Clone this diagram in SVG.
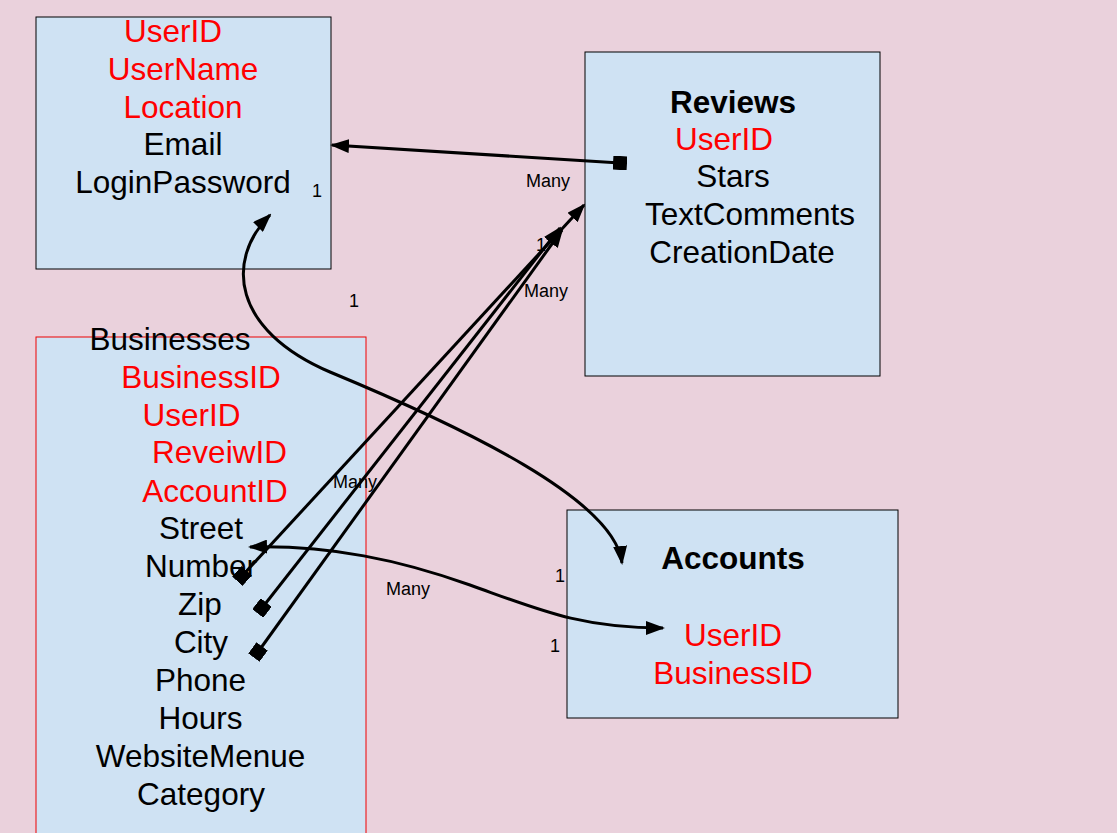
<svg xmlns="http://www.w3.org/2000/svg" width="1117" height="833" viewBox="0 0 1117 833">
<style>
.box{fill:#cfe2f3;stroke:#000;stroke-width:1}
.t{font-family:"Liberation Sans",Arial,sans-serif;font-size:31.5px;fill:#000;text-anchor:middle}
.r{fill:#f00}
.b{font-weight:bold}
.lbl{font-family:"Liberation Sans",Arial,sans-serif;font-size:18px;fill:#000;text-anchor:middle}
.c{fill:none;stroke:#000;stroke-width:3}
</style>
<defs>
<marker id="arr" markerUnits="userSpaceOnUse" markerWidth="19" markerHeight="14" refX="17" refY="7" orient="auto-start-reverse"><path d="M0,0 L19,7 L0,14 z" fill="#000"/></marker>
<marker id="sq" markerUnits="userSpaceOnUse" markerWidth="14" markerHeight="14" refX="7" refY="7" orient="auto"><rect x="0" y="0" width="14" height="14" fill="#000"/></marker>
</defs>
<rect width="1117" height="833" fill="#ead1dc"/>
<text class="lbl" x="354" y="307">1</text>
<text class="lbl" x="541" y="251">1</text>
<g id="users">
<rect class="box" x="36" y="17" width="295" height="252"/>
<text class="t r" x="173" y="42">UserID</text>
<text class="t r" x="183" y="80">UserName</text>
<text class="t r" x="183" y="118">Location</text>
<text class="t" x="183" y="155">Email</text>
<text class="t" x="183" y="193">LoginPassword</text>
</g>
<g id="reviews">
<rect class="box" x="585" y="52" width="295" height="324"/>
<text class="t b" x="733" y="113">Reviews</text>
<text class="t r" x="724" y="150">UserID</text>
<text class="t" x="733" y="187">Stars</text>
<text class="t" x="750" y="225">TextComments</text>
<text class="t" x="742" y="263">CreationDate</text>
</g>
<g id="businesses">
<rect x="36" y="337" width="330" height="520" fill="#cfe2f3" stroke="#e00" stroke-width="1"/>
<text class="t" x="170" y="350">Businesses</text>
<text class="t r" x="201" y="388">BusinessID</text>
<text class="t r" x="191.5" y="426">UserID</text>
<text class="t r" x="219.5" y="463">ReveiwID</text>
<text class="t r" x="215" y="502">AccountID</text>
<text class="t" x="201" y="539">Street</text>
<text class="t" x="201" y="577">Number</text>
<text class="t" x="200" y="615">Zip</text>
<text class="t" x="201" y="653">City</text>
<text class="t" x="200.5" y="691">Phone</text>
<text class="t" x="200.5" y="729">Hours</text>
<text class="t" x="200.5" y="767">WebsiteMenue</text>
<text class="t" x="201" y="805">Category</text>
</g>
<g id="accounts">
<rect class="box" x="567" y="510" width="331" height="208"/>
<text class="t b" x="733" y="569">Accounts</text>
<text class="t r" x="733" y="646">UserID</text>
<text class="t r" x="733" y="684">BusinessID</text>
</g>
<g id="connectors">
<path class="c" d="M620,163 L332,145" marker-start="url(#sq)" marker-end="url(#arr)"/>
<path class="c" d="M270,215 C225,260 232,330 330,372 C465,428 615,500 622,563" marker-start="url(#arr)" marker-end="url(#arr)"/>
<path class="c" d="M250,547 C330,545 400,560 470,585 C540,610 580,628 663,628" marker-start="url(#arr)" marker-end="url(#arr)"/>
<path class="c" d="M242,576 L584,205" marker-start="url(#sq)" marker-end="url(#arr)"/>
<path class="c" d="M262,608 L560,228" marker-start="url(#sq)" marker-end="url(#arr)"/>
<path class="c" d="M258,652 L562,230" marker-start="url(#sq)" marker-end="url(#arr)"/>
</g>
<g id="labels">
<text class="lbl" x="317" y="197">1</text>
<text class="lbl" x="548" y="187">Many</text>
<text class="lbl" x="546" y="297">Many</text>
<text class="lbl" x="355" y="488">Many</text>
<text class="lbl" x="408" y="595">Many</text>
<text class="lbl" x="560" y="582">1</text>
<text class="lbl" x="555" y="652">1</text>
</g>
</svg>
